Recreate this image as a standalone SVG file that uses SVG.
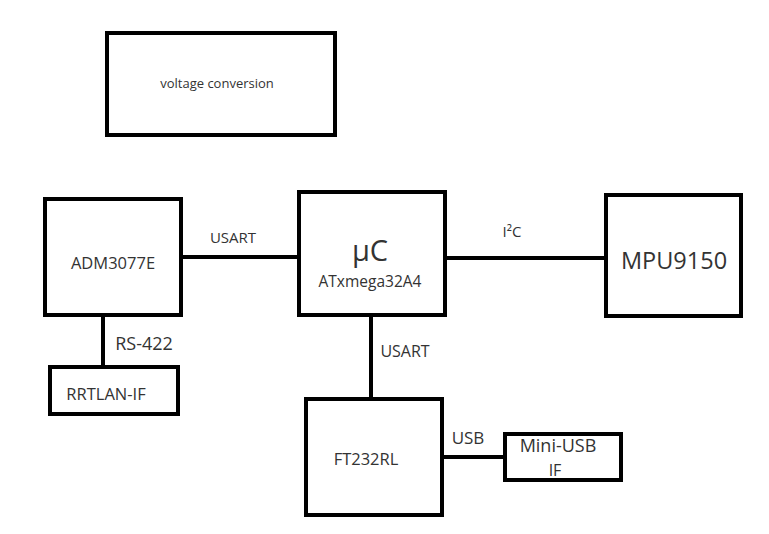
<svg xmlns="http://www.w3.org/2000/svg" width="769" height="534" viewBox="0 0 769 534">
<style>
.box{fill:#fff;stroke:#000;stroke-width:4}
.ln{stroke:#000;stroke-width:4;fill:none}
text{font-family:"Open Sans","Liberation Sans",sans-serif;fill:#333;text-anchor:middle;dominant-baseline:central}
</style>
<rect width="769" height="534" fill="#fff"/>
<g id="connectors">
<line class="ln" x1="181" y1="257" x2="299" y2="257"/>
<line class="ln" x1="103" y1="315" x2="103" y2="367"/>
<line class="ln" x1="445" y1="258" x2="606" y2="258"/>
<line class="ln" x1="371" y1="315" x2="371" y2="399"/>
<line class="ln" x1="442" y1="457" x2="505" y2="457"/>
<text x="233" y="237" font-size="15">USART</text>
<text x="144" y="343" font-size="18">RS-422</text>
<text x="512" y="231" font-size="15">I²C</text>
<text x="405" y="351" font-size="16">USART</text>
<text x="468" y="437" font-size="17">USB</text>
</g>
<g id="voltage">
<rect class="box" x="107" y="33" width="228" height="102"/>
<text x="217" y="83" font-size="13">voltage conversion</text>
</g>
<g id="adm3077e">
<rect class="box" x="45" y="199" width="136" height="116"/>
<text x="113" y="262" font-size="16.5">ADM3077E</text>
</g>
<g id="rrtlan">
<rect class="box" x="50" y="367" width="128" height="47"/>
<text x="106" y="393" font-size="16.5">RRTLAN-IF</text>
</g>
<g id="uc">
<rect class="box" x="299" y="192" width="146" height="123"/>
<text x="370" y="249" font-size="29">µC</text>
<text x="370" y="281" font-size="15.5">ATxmega32A4</text>
</g>
<g id="mpu9150">
<rect class="box" x="606" y="195" width="135" height="121"/>
<text x="674" y="260" font-size="23.5">MPU9150</text>
</g>
<g id="ft232rl">
<rect class="box" x="306" y="399" width="136" height="116"/>
<text x="366" y="458" font-size="16.5">FT232RL</text>
</g>
<g id="miniusb">
<rect class="box" x="505" y="434" width="116" height="46"/>
<text x="558" y="445" font-size="18">Mini-USB</text>
<text x="555" y="470" font-size="16">IF</text>
</g>
</svg>
